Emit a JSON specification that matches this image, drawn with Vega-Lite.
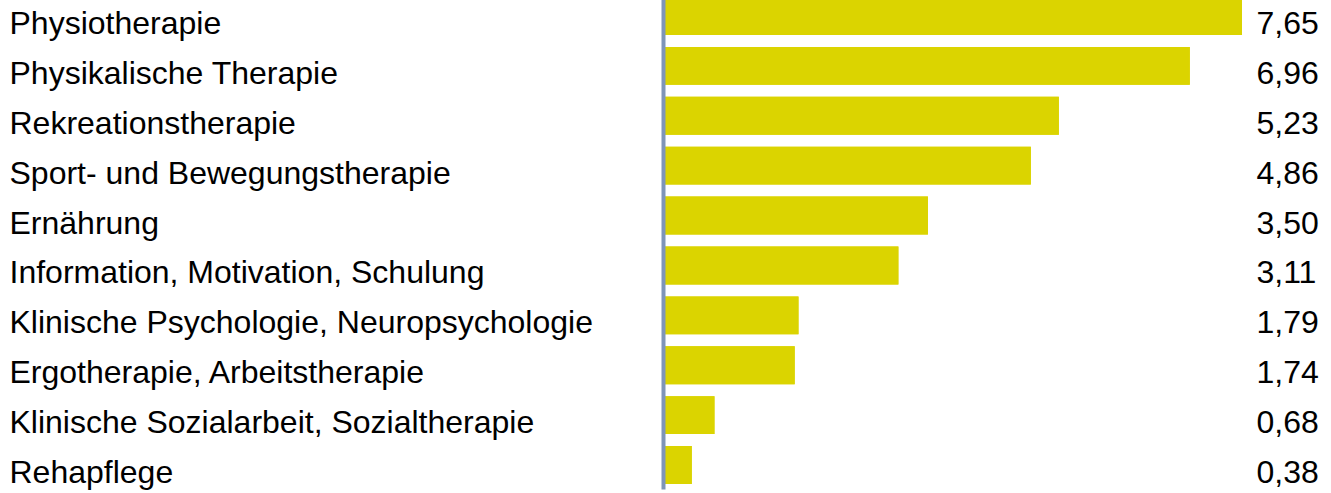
{
  "$schema": "https://vega.github.io/schema/vega-lite/v6.json",
  "width": 579,
  "height": 497,
  "autosize": {"type": "none"},
  "padding": {"left": 663, "top": -8, "right": 89, "bottom": 4},
  "background": "white",
  "config": {"view": {"stroke": null}},
  "data": {"values": [
    {"name": "Physiotherapie", "v": 7.65, "lab": "7,65"},
    {"name": "Physikalische Therapie", "v": 6.96, "lab": "6,96"},
    {"name": "Rekreationstherapie", "v": 5.23, "lab": "5,23"},
    {"name": "Sport- und Bewegungstherapie", "v": 4.86, "lab": "4,86"},
    {"name": "Ernährung", "v": 3.50, "lab": "3,50"},
    {"name": "Information, Motivation, Schulung", "v": 3.11, "lab": "3,11"},
    {"name": "Klinische Psychologie, Neuropsychologie", "v": 1.79, "lab": "1,79"},
    {"name": "Ergotherapie, Arbeitstherapie", "v": 1.74, "lab": "1,74"},
    {"name": "Klinische Sozialarbeit, Sozialtherapie", "v": 0.68, "lab": "0,68"},
    {"name": "Rehapflege", "v": 0.38, "lab": "0,38"}
  ]},
  "encoding": {
    "x": {"field": "v", "type": "quantitative", "scale": {"domain": [0, 7.65], "nice": false, "zero": true}, "axis": null}
  },
  "layer": [
    {
      "mark": {"type": "bar", "color": "#dbd400"},
      "encoding": {
        "y": {"field": "name", "type": "nominal", "sort": {"field": "v", "order": "descending"},
          "scale": {"paddingInner": 0.24, "paddingOuter": 0.1},
          "axis": {"orient": "left", "title": null, "zindex": 1, "domain": true, "domainColor": "#7f95b8", "domainWidth": 4, "ticks": false, "grid": false,
            "labelFont": "Liberation Sans", "labelFontSize": 32, "labelColor": "#000000", "labelAlign": "left", "labelPadding": 654, "labelBaseline": "middle", "labelOffset": 8, "labelLimit": 0}}
      }
    },
    {
      "mark": {"type": "bar", "color": "#dbd400"},
      "encoding": {
        "y": {"field": "lab", "type": "nominal", "sort": {"field": "v", "order": "descending"},
          "scale": {"paddingInner": 0.24, "paddingOuter": 0.1},
          "axis": {"orient": "right", "title": null, "domain": false, "ticks": false, "grid": false,
            "labelFont": "Liberation Sans", "labelFontSize": 32, "labelColor": "#000000", "labelAlign": "left", "labelPadding": 14, "labelBaseline": "middle", "labelOffset": 8, "labelLimit": 0}}
      }
    }
  ],
  "resolve": {"scale": {"y": "independent"}}
}
